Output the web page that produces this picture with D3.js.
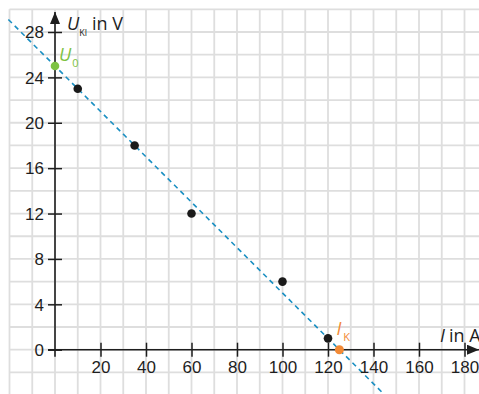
<!DOCTYPE html>
<html>
<head>
<meta charset="utf-8">
<script src="https://cdn.jsdelivr.net/npm/d3@7"></script>
<style>
	body { margin: 0; background: #fff; }
	svg { display: block; font-family: "Open Sans", "Noto Sans", sans-serif; }
</style>
</head>
<body>
<script>
const w = 479;
const h = 394;

// measured values
const currents = [10, 35, 60, 100, 120];
const voltages = [23, 18, 12, 6, 1];
const xTicks = [20, 40, 60, 80, 100, 120, 140, 160, 180];
const yTicks = [0, 4, 8, 12, 16, 20, 24, 28];
const u0 = 25;
const ik = 125;

const points = currents.map((c, i) => ({ c: c, u: voltages[i] }));

const svg = d3
	.select("body")
	.append("svg")
	.attr("width", w)
	.attr("height", h);

// * SCALES
const xScale = d3.scaleLinear().domain([0, 180]).range([55, 464.5]);
const yScale = d3.scaleLinear().domain([0, 28]).range([349.7, 32]);

// * GRID
svg.append("g")
	.selectAll("line")
	.data(d3.range(-20, 200, 10))
	.enter()
	.append("line")
	.attr("x1", (d) => xScale(d))
	.attr("x2", (d) => xScale(d))
	.attr("y1", yScale(30))
	.attr("y2", h)
	.attr("stroke", "#dedede")
	.attr("stroke-width", 1.8);
svg.append("g")
	.selectAll("line")
	.data(d3.range(-4, 32, 2))
	.enter()
	.append("line")
	.attr("x1", xScale(-20))
	.attr("x2", w)
	.attr("y1", (d) => yScale(d))
	.attr("y2", (d) => yScale(d))
	.attr("stroke", "#dedede")
	.attr("stroke-width", 1.8);

// * DASHED LINE U = U0 - U0/Ik * I
const line = d3
	.line()
	.x((d) => xScale(d))
	.y((d) => yScale(u0 - (u0 / ik) * d));
svg.append("path")
	.attr("d", line([-20.5, 145]))
	.attr("fill", "none")
	.attr("stroke", "#1a8fc2")
	.attr("stroke-width", 1.6)
	.attr("stroke-dasharray", "5,4");

// * AXES
const ink = "#1e1e1e";
svg.append("defs")
	.append("marker")
	.attr("id", "arrow")
	.attr("viewBox", "0 0 12 10")
	.attr("refX", 12)
	.attr("refY", 5)
	.attr("markerWidth", 12)
	.attr("markerHeight", 10)
	.attr("markerUnits", "userSpaceOnUse")
	.attr("orient", "auto")
	.append("path")
	.attr("d", "M0,0L12,5L0,10Z")
	.attr("fill", ink);

const xAxis = d3.axisBottom(xScale).tickValues(xTicks).tickSize(0).tickPadding(11);
const gx = svg.append("g")
	.attr("transform", "translate(0," + yScale(0) + ")")
	.call(xAxis);
gx.select(".domain").remove();
gx.selectAll(".tick text")
	.attr("fill", ink)
	.style("font-size", "17px");
gx.selectAll(".tick")
	.append("line")
	.attr("y1", -7)
	.attr("y2", 7)
	.attr("stroke", ink)
	.attr("stroke-width", 1.5);
svg.append("line")
	.attr("x1", xScale(0) - 7)
	.attr("x2", w)
	.attr("y1", yScale(0))
	.attr("y2", yScale(0))
	.attr("stroke", ink)
	.attr("stroke-width", 1.6)
	.attr("marker-end", "url(#arrow)");

const yAxis = d3.axisLeft(yScale).tickValues(yTicks).tickSize(0).tickPadding(11);
const gy = svg.append("g")
	.attr("transform", "translate(" + xScale(0) + ",0)")
	.call(yAxis);
gy.select(".domain").remove();
gy.selectAll(".tick text")
	.attr("fill", ink)
	.attr("dy", "0.34em")
	.style("font-size", "17px");
gy.selectAll(".tick")
	.append("line")
	.attr("x1", -7)
	.attr("x2", 7)
	.attr("stroke", ink)
	.attr("stroke-width", 1.5);
svg.append("line")
	.attr("x1", xScale(0))
	.attr("x2", xScale(0))
	.attr("y1", yScale(0) + 7)
	.attr("y2", 12)
	.attr("stroke", ink)
	.attr("stroke-width", 1.6)
	.attr("marker-end", "url(#arrow)");

// * AXIS TITLES
const yTitle = svg.append("text")
	.attr("x", xScale(0) + 12)
	.attr("y", 30)
	.attr("fill", ink)
	.style("font-size", "18px");
yTitle.append("tspan").attr("font-style", "italic").text("U");
yTitle.append("tspan").attr("dy", 6).style("font-size", "9px").text("Kl");
yTitle.append("tspan").attr("dy", -6).attr("dx", 5).text("in V");

const xTitle = svg.append("text")
	.attr("x", 440)
	.attr("y", 342)
	.attr("fill", ink)
	.style("font-size", "18px");
xTitle.append("tspan").attr("font-style", "italic").text("I");
xTitle.append("tspan").attr("dx", 4).text("in A");

// * POINTS
svg.append("g")
	.selectAll("circle")
	.data(points)
	.enter()
	.append("circle")
	.attr("cx", (d) => xScale(d.c))
	.attr("cy", (d) => yScale(d.u))
	.attr("r", 4.3)
	.attr("fill", "#1a1a1a");

const green = "#7dc242";
const orange = "#f28a36";
svg.append("circle")
	.attr("cx", xScale(0))
	.attr("cy", yScale(u0))
	.attr("r", 4.3)
	.attr("fill", green);
svg.append("circle")
	.attr("cx", xScale(ik))
	.attr("cy", yScale(0))
	.attr("r", 4.5)
	.attr("fill", orange);

const u0Label = svg.append("text")
	.attr("x", xScale(0) + 4)
	.attr("y", yScale(u0) - 5)
	.attr("fill", green)
	.style("font-size", "18px");
u0Label.append("tspan").attr("font-style", "italic").text("U");
u0Label.append("tspan").attr("dy", 6).attr("dx", 1).style("font-size", "11px").text("0");

const ikLabel = svg.append("text")
	.attr("x", xScale(ik) - 3)
	.attr("y", yScale(0) - 15)
	.attr("fill", orange)
	.style("font-size", "18px");
ikLabel.append("tspan").attr("font-style", "italic").text("I");
ikLabel.append("tspan").attr("dy", 6).attr("dx", 2).style("font-size", "11px").text("K");
</script>
</body>
</html>
